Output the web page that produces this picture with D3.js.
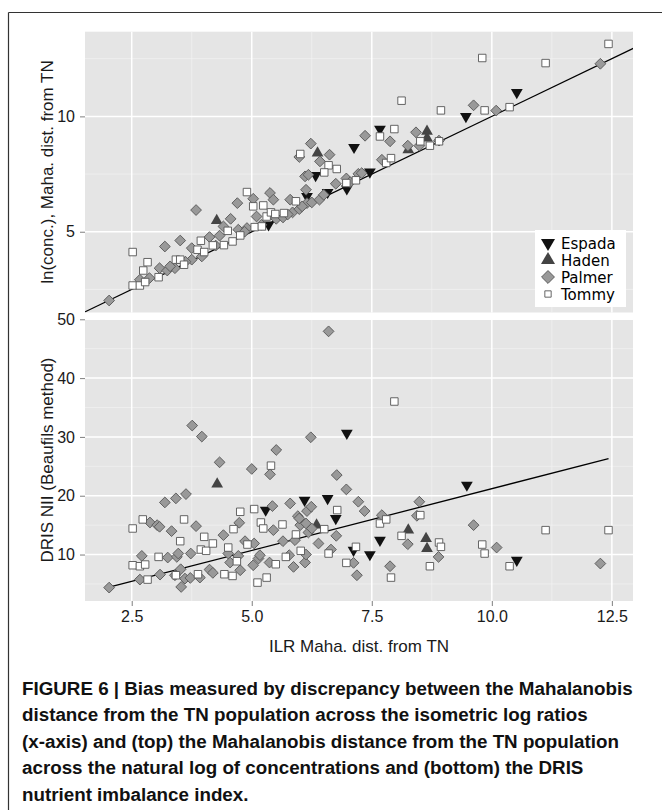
<!DOCTYPE html>
<html>
<head>
<meta charset="utf-8">
<script src="https://cdn.jsdelivr.net/npm/d3@7"></script>
<style>
  body { margin: 0; background: #fff; }
</style>
</head>
<body>
<svg id="chart" width="662" height="810"></svg>
<script>
// values: [ILR dist, y]
var topEspada = [[5.35,5.30],[6.15,6.53],[6.33,7.44],[6.58,6.71],[6.98,6.86],[7.13,8.66],[7.46,7.59],[7.67,9.45],[9.46,10.0],[10.52,11.04]];
var topHaden = [[4.27,5.48],[6.37,8.41],[8.26,8.55],[8.65,9.35],[8.65,9.06]];
var topPalmer = [[2.03,2.02],[2.67,2.92],[2.87,2.99],[3.08,3.42],[3.19,4.36],[3.24,3.32],[3.40,3.42],[3.51,4.62],[3.75,4.29],
  [3.75,3.79],[3.84,5.94],[3.96,3.93],[4.12,4.77],[4.33,4.83],[4.41,5.23],[4.56,5.56],[4.70,6.24],[4.72,5.09],[4.90,5.16],
  [5.03,6.43],[5.10,5.66],[5.38,6.68],[5.45,6.39],[5.51,5.56],[5.65,5.62],[5.80,6.39],[5.85,5.84],[5.99,5.98],[5.99,8.24],
  [6.11,7.40],[6.13,6.82],[6.15,6.24],[6.23,8.82],[6.25,6.27],[6.18,7.47],[6.42,8.05],[6.62,8.34],[6.41,6.39],[6.75,7.08],
  [6.97,7.31],[7.22,7.51],[7.36,9.16],[7.88,8.92],[7.71,8.12],[7.29,7.54],[8.25,8.73],[8.42,9.31],[8.49,8.73],[8.90,8.95],
  [9.62,10.48],[10.09,10.25],[12.26,12.28],[3.30,3.50],[3.62,3.70],[4.25,4.40],[4.85,5.00],[5.20,5.30],[5.75,5.75],[6.05,6.10],
  [6.50,6.60],[7.05,7.15]];
var topTommy = [[2.52,4.12],[2.52,2.67],[2.67,2.67],[2.83,3.68],[2.74,3.32],[2.78,2.82],[3.06,3.03],[3.42,3.79],[3.51,3.79],
  [3.59,3.57],[3.94,4.61],[3.87,4.22],[4.01,4.12],[4.19,4.41],[4.42,4.42],[4.50,5.04],[4.60,4.58],[4.76,4.84],[4.90,6.72],
  [5.03,6.10],[5.06,5.20],[5.21,5.23],[5.24,6.14],[5.31,5.66],[5.40,5.84],[5.49,5.77],[5.67,5.81],[5.92,6.32],[6.01,8.37],
  [6.60,7.88],[6.51,7.57],[6.77,7.72],[6.97,7.11],[7.17,7.23],[7.67,9.13],[7.97,9.45],[7.80,7.98],[7.90,8.19],[8.12,10.68],
  [8.51,8.92],[8.71,8.73],[8.90,8.92],[8.94,10.26],[9.80,12.53],[9.85,10.26],[10.37,10.40],[11.12,12.31],[12.43,13.14]];

var bottomEspada = [[5.29,17.56],[6.10,19.26],[6.58,19.55],[6.75,16.14],[6.98,30.63],[7.12,10.74],[7.46,10.0],[7.67,12.44],[9.48,21.82],[10.52,9.03]];
var bottomHaden = [[4.28,21.99],[6.35,15.0],[8.26,14.15],[8.63,12.73],[8.65,11.02]];
var bottomPalmer = [[2.03,4.38],[2.71,9.77],[2.67,5.74],[2.88,15.45],[3.03,15.0],[3.08,14.72],[3.09,6.59],[3.19,18.86],[3.33,13.98],
  [3.25,9.49],[3.42,19.55],[3.44,9.60],[3.47,10.17],[3.40,6.48],[3.52,7.50],[3.53,4.49],[3.63,20.28],[3.61,5.91],[3.72,6.02],
  [3.76,31.93],[3.96,30.06],[3.73,10.17],[3.84,14.83],[3.92,6.08],[4.12,7.44],[4.19,6.88],[4.33,25.68],[4.41,13.30],[4.51,10.17],
  [4.55,8.64],[4.74,15.40],[4.72,9.77],[4.76,7.33],[4.86,12.27],[5.0,24.55],[5.05,11.88],[5.03,8.18],[5.14,9.32],[5.17,9.89],
  [5.38,23.64],[5.43,18.24],[5.45,14.15],[5.51,27.78],[5.37,8.64],[5.65,12.27],[5.80,18.69],[5.78,9.89],[5.87,7.90],[5.90,12.44],
  [5.96,16.53],[6.01,15.0],[5.99,16.14],[6.15,17.39],[6.24,18.13],[6.13,15.28],[6.18,13.75],[6.11,8.64],[6.13,10.0],[6.25,14.43],
  [6.23,29.94],[6.39,11.88],[6.60,47.95],[6.65,10.85],[6.77,23.52],[6.76,13.18],[6.97,21.08],[7.12,8.58],[7.22,18.98],[7.19,6.48],
  [7.35,17.39],[7.71,16.70],[7.88,8.01],[8.25,11.76],[8.49,18.98],[8.44,16.59],[8.89,9.60],[9.62,15.0],[10.10,11.19],[12.26,8.47]];
var bottomTommy = [[2.52,14.43],[2.52,8.18],[2.67,8.01],[2.78,8.30],[2.83,5.74],[2.73,15.97],[3.06,9.60],[3.42,6.48],[3.59,15.97],
  [3.51,12.27],[4.01,13.01],[3.94,10.85],[4.05,10.63],[3.88,6.65],[4.19,11.88],[4.43,6.65],[4.51,11.19],[4.60,6.36],[4.62,14.32],
  [4.76,17.27],[4.69,8.86],[4.91,11.70],[5.05,17.73],[5.12,5.23],[5.31,6.08],[5.19,15.45],[5.24,14.43],[5.40,25.11],[5.64,15.11],
  [5.50,8.35],[5.71,9.60],[5.92,13.41],[6.02,10.63],[6.51,14.32],[6.60,10.17],[6.78,17.56],[6.97,8.58],[7.17,11.31],[7.67,15.28],
  [7.80,15.97],[7.90,6.08],[7.97,36.02],[8.12,13.18],[8.51,16.70],[8.90,12.05],[8.94,11.31],[8.71,8.01],[9.80,11.70],[9.85,10.17],
  [10.37,8.01],[11.12,14.15],[12.43,14.15]];

// reference lines: top is the 1:1 line, bottom is the fitted line (ends)
var topLine = [[1.5, 1.5], [13, 13]];
var bottomLine = [[2.05, 4.5], [12.43, 26.3]];

var cultivars = ["Espada", "Haden", "Palmer", "Tommy"];
var xTicks = [2.5, 5.0, 7.5, 10.0, 12.5];
var xTickLabels = ["2.5", "5.0", "7.5", "10.0", "12.5"];
var topYTicks = [5, 10];
var bottomYTicks = [10, 20, 30, 40, 50];

var caption = [
  "FIGURE 6 | Bias measured by discrepancy between the Mahalanobis",
  "distance from the TN population across the isometric log ratios",
  "(x-axis) and (top) the Mahalanobis distance from the TN population",
  "across the natural log of concentrations and (bottom) the DRIS",
  "nutrient imbalance index."
];

var svg = d3.select("#chart");
var sans = "'Liberation Sans', Arial, Helvetica, sans-serif";

// figure frame (top + left rules)
svg.append("line").attr("x1", 8.5).attr("x2", 662).attr("y1", 12.5).attr("y2", 12.5)
  .attr("stroke", "#333").attr("stroke-width", 1.2);
svg.append("line").attr("x1", 8.5).attr("x2", 8.5).attr("y1", 12.5).attr("y2", 810)
  .attr("stroke", "#333").attr("stroke-width", 1.2);

var x = d3.scaleLinear().domain([1.527, 12.94]).range([85, 633]);
var yTop = d3.scaleLinear().domain([1.5, 13.67]).range([312.5, 31.7]);
var yBottom = d3.scaleLinear().domain([2.1, 50.05]).range([601, 319]);

var shapes = {
  Espada: { type: d3.symbolTriangle, size: 60, rotate: 180, fill: "#111", stroke: "none" },
  Haden: { type: d3.symbolTriangle, size: 60, rotate: 0, fill: "#444", stroke: "none" },
  Palmer: { type: d3.symbolSquare, size: 58, rotate: 45, fill: "#999", stroke: "#5a5a5a" },
  Tommy: { type: d3.symbolSquare, size: 56, rotate: 0, fill: "#fff", stroke: "#555" }
};

function drawPanel(y, yTicks, series, line) {
  var x0 = x.range()[0], x1 = x.range()[1];
  var yb = y.range()[0], yt = y.range()[1];
  var g = svg.append("g");

  g.append("rect").attr("x", x0).attr("y", yt).attr("width", x1 - x0).attr("height", yb - yt)
    .attr("fill", "#e5e5e5");

  // minor grid
  var xMinor = d3.range(3.75, 12.9, 2.5);
  var step = yTicks[1] - yTicks[0];
  var yMinor = d3.range(yTicks[0] - step / 2, y.domain()[1], step).filter(v => v > y.domain()[0]);
  g.selectAll(".xmin").data(xMinor).enter().append("line")
    .attr("x1", d => x(d)).attr("x2", d => x(d)).attr("y1", yt).attr("y2", yb)
    .attr("stroke", "#f2f2f2").attr("stroke-width", 0.7);
  g.selectAll(".ymin").data(yMinor).enter().append("line")
    .attr("x1", x0).attr("x2", x1).attr("y1", d => y(d)).attr("y2", d => y(d))
    .attr("stroke", "#f2f2f2").attr("stroke-width", 0.7);
  // major grid
  g.selectAll(".xmaj").data(xTicks).enter().append("line")
    .attr("x1", d => x(d)).attr("x2", d => x(d)).attr("y1", yt).attr("y2", yb)
    .attr("stroke", "#fff").attr("stroke-width", 1.5);
  g.selectAll(".ymaj").data(yTicks.filter(v => y(v) >= yt - 0.5)).enter().append("line")
    .attr("x1", x0).attr("x2", x1).attr("y1", d => y(d)).attr("y2", d => y(d))
    .attr("stroke", "#fff").attr("stroke-width", 1.5);

  // y axis
  var yAxis = d3.axisLeft(y).tickValues(yTicks).tickSize(5).tickPadding(5).tickFormat(d3.format("d"));
  var ya = g.append("g").attr("transform", `translate(${x0},0)`).call(yAxis);
  ya.select(".domain").remove();
  ya.selectAll(".tick line").attr("stroke", "#7f7f7f");
  ya.selectAll(".tick text").attr("font-family", sans).attr("font-size", 16).attr("fill", "#1a1a1a");

  // reference line
  var clipId = "clip" + Math.round(yt);
  svg.append("clipPath").attr("id", clipId).append("rect")
    .attr("x", x0).attr("y", yt).attr("width", x1 - x0).attr("height", yb - yt);
  g.append("path").datum(line)
    .attr("d", d3.line().x(d => x(d[0])).y(d => y(d[1])))
    .attr("clip-path", `url(#${clipId})`)
    .attr("stroke", "#000").attr("stroke-width", 1.3).attr("fill", "none");

  // points
  cultivars.forEach(function(c, i) {
    var s = shapes[c];
    g.append("g").selectAll("path").data(series[i]).enter().append("path")
      .attr("d", d3.symbol().type(s.type).size(s.size))
      .attr("transform", d => `translate(${x(d[0])},${y(d[1])}) rotate(${s.rotate})`)
      .attr("fill", s.fill).attr("stroke", s.stroke).attr("stroke-width", 0.9);
  });
  return g;
}

drawPanel(yTop, topYTicks, [topEspada, topHaden, topPalmer, topTommy], topLine);
drawPanel(yBottom, bottomYTicks, [bottomEspada, bottomHaden, bottomPalmer, bottomTommy], bottomLine);

// x axis (bottom panel only)
var xAxis = d3.axisBottom(x).tickValues(xTicks).tickSize(5).tickPadding(5)
  .tickFormat((d, i) => xTickLabels[i]);
var xa = svg.append("g").attr("transform", "translate(0,601)").call(xAxis);
xa.select(".domain").remove();
xa.selectAll(".tick line").attr("stroke", "#7f7f7f");
xa.selectAll(".tick text").attr("font-family", sans).attr("font-size", 16).attr("fill", "#1a1a1a");

// axis titles
svg.append("text").attr("x", 359).attr("y", 652).attr("text-anchor", "middle")
  .attr("font-family", sans).attr("font-size", 17).attr("fill", "#1a1a1a")
  .text("ILR Maha. dist. from TN");
svg.append("text").attr("transform", "translate(53,172) rotate(-90)").attr("text-anchor", "middle")
  .attr("font-family", sans).attr("font-size", 17).attr("fill", "#1a1a1a")
  .text("ln(conc.), Maha. dist. from TN");
svg.append("text").attr("transform", "translate(53,460) rotate(-90)").attr("text-anchor", "middle")
  .attr("font-family", sans).attr("font-size", 17).attr("fill", "#1a1a1a")
  .text("DRIS NII (Beaufils method)");

// legend
var legend = svg.append("g").attr("transform", "translate(535,230)");
legend.append("rect").attr("width", 91).attr("height", 77).attr("fill", "#fff");
cultivars.forEach(function(c, i) {
  var s = shapes[c];
  var row = legend.append("g").attr("transform", `translate(0,${13 + i * 17})`);
  row.append("path")
    .attr("d", d3.symbol().type(s.type).size(c === "Tommy" ? 40 : s.size + 25))
    .attr("transform", `translate(13,0) rotate(${s.rotate})`)
    .attr("fill", s.fill).attr("stroke", s.stroke).attr("stroke-width", 0.9);
  row.append("text").attr("x", 26).attr("y", 5.5)
    .attr("font-family", "'DejaVu Sans', Verdana, sans-serif").attr("font-size", 15).attr("fill", "#000")
    .text(c);
});

// caption
svg.append("g").selectAll("text").data(caption).enter().append("text")
  .attr("x", 22).attr("y", (d, i) => 694.5 + i * 26.5)
  .attr("font-family", sans).attr("font-weight", "bold").attr("font-size", 18.8).attr("fill", "#111")
  .text(d => d);
</script>
</body>
</html>
